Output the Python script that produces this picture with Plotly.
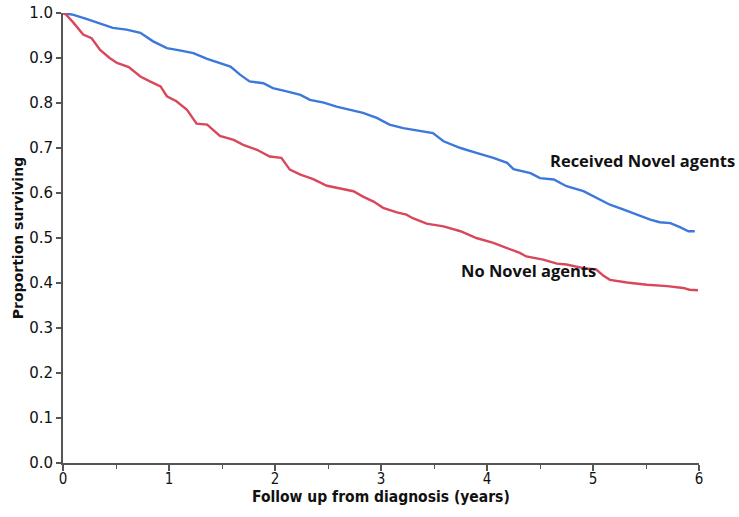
import plotly.graph_objects as go

# Received Novel agents (blue)
t_novel = [0, 0.10, 0.22, 0.35, 0.47, 0.60, 0.73, 0.85, 0.98, 1.10, 1.23, 1.36, 1.48, 1.58, 1.67,
           1.76, 1.89, 1.98, 2.11, 2.24, 2.33, 2.46, 2.58, 2.71, 2.83, 2.96, 3.08, 3.21, 3.34,
           3.49, 3.59, 3.75, 3.90, 4.06, 4.19, 4.25, 4.41, 4.50, 4.63, 4.75, 4.91, 5.03, 5.16,
           5.29, 5.41, 5.54, 5.63, 5.73, 5.82, 5.90, 5.96]
s_novel = [1.0, 0.996, 0.987, 0.976, 0.967, 0.963, 0.956, 0.937, 0.922, 0.917, 0.911, 0.898, 0.889, 0.881, 0.863,
           0.848, 0.844, 0.833, 0.826, 0.818, 0.807, 0.801, 0.792, 0.785, 0.778, 0.767, 0.752, 0.744, 0.739,
           0.733, 0.715, 0.700, 0.689, 0.678, 0.667, 0.653, 0.644, 0.633, 0.630, 0.615, 0.604, 0.589, 0.574,
           0.563, 0.552, 0.541, 0.535, 0.533, 0.524, 0.515, 0.515]

# No Novel agents (red)
t_none = [0, 0.03, 0.10, 0.19, 0.27, 0.35, 0.44, 0.51, 0.62, 0.73, 0.82, 0.92, 0.98, 1.07, 1.17,
          1.26, 1.36, 1.48, 1.61, 1.70, 1.83, 1.95, 2.06, 2.14, 2.24, 2.36, 2.49, 2.61, 2.74,
          2.83, 2.93, 3.02, 3.15, 3.24, 3.30, 3.43, 3.59, 3.75, 3.90, 4.06, 4.19, 4.31, 4.37,
          4.53, 4.66, 4.75, 4.91, 5.03, 5.10, 5.16, 5.32, 5.51, 5.70, 5.85, 5.91, 5.99]
s_none = [1.0, 0.996, 0.978, 0.952, 0.944, 0.918, 0.900, 0.889, 0.880, 0.859, 0.848, 0.837, 0.815, 0.804, 0.785,
          0.754, 0.752, 0.727, 0.718, 0.707, 0.696, 0.681, 0.678, 0.652, 0.641, 0.631, 0.616, 0.611, 0.604,
          0.592, 0.581, 0.567, 0.557, 0.552, 0.544, 0.532, 0.526, 0.515, 0.500, 0.489, 0.478, 0.467, 0.459,
          0.452, 0.443, 0.441, 0.433, 0.430, 0.416, 0.407, 0.401, 0.396, 0.393, 0.389, 0.385, 0.384]

x_ticks = [0, 1, 2, 3, 4, 5, 6]
y_ticks = [0.0, 0.1, 0.2, 0.3, 0.4, 0.5, 0.6, 0.7, 0.8, 0.9, 1.0]

fig = go.Figure()
fig.add_trace(go.Scatter(x=t_novel, y=s_novel, mode="lines", line=dict(color="#3b78dc", width=2.4),
                         cliponaxis=False, showlegend=False))
fig.add_trace(go.Scatter(x=t_none, y=s_none, mode="lines", line=dict(color="#d9475b", width=2.4),
                         cliponaxis=False, showlegend=False))

fig.add_annotation(x=4.575, y=0.672, xanchor="left", yanchor="middle", showarrow=False,
                   text="<b>Received Novel agents</b>", font=dict(family="Open Sans, DejaVu Sans", size=16.5, color="#111"))
fig.add_annotation(x=3.74, y=0.427, xanchor="left", yanchor="middle", showarrow=False,
                   text="<b>No Novel agents</b>", font=dict(family="Open Sans, DejaVu Sans", size=16.5, color="#111"))
fig.add_annotation(x=0.5, y=0, xref="paper", yref="paper", xanchor="center", yanchor="middle",
                   yshift=-34, showarrow=False,
                   text="<b>Follow up from diagnosis (years)</b>",
                   font=dict(family="DejaVu Sans Condensed, DejaVu Sans", size=15.5, color="#111"))

fig.update_layout(
    width=739, height=517,
    margin=dict(l=63, r=40, t=13, b=54),
    paper_bgcolor="white", plot_bgcolor="white",
    xaxis=dict(range=[0, 6], tickvals=x_ticks, ticktext=[str(v) for v in x_ticks], automargin=False,
               showgrid=False, zeroline=False, showline=True, linecolor="#555", linewidth=2,
               ticks="outside", ticklen=6, tickwidth=1.5, tickcolor="#555", ticklabelstandoff=-5,
               minor=dict(dtick=0.5, ticks="outside", ticklen=4, tickcolor="#555", tickwidth=1.2),
               tickfont=dict(family="DejaVu Sans Condensed, Liberation Sans", size=15, color="#111")),
    yaxis=dict(range=[0, 1], tickvals=y_ticks, ticktext=[f"{v:.1f}" for v in y_ticks], automargin=False,
               showgrid=False, zeroline=False, showline=True, linecolor="#555", linewidth=2,
               ticks="outside", ticklen=5, tickwidth=1.5, tickcolor="#555",
               tickfont=dict(family="DejaVu Sans", size=15, color="#111"),
               title=dict(text="<b>Proportion surviving</b>", standoff=2,
                          font=dict(family="DejaVu Sans, Open Sans", size=14, color="#111"))),
)

fig.write_html("out.html", config={"displayModeBar": False},
               post_script="document.body.style.margin='0';")
